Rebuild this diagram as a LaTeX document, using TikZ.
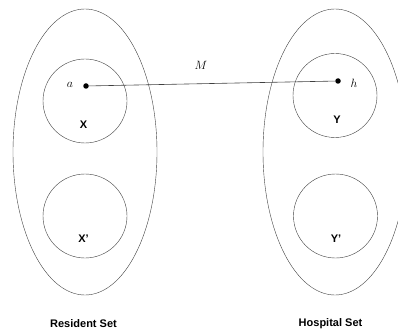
\documentclass[tikz,border=0pt]{standalone}
\usepackage{fontspec}
\setsansfont{Liberation Sans}
\usetikzlibrary{shapes.geometric}

\tikzset{
  setshape/.style={draw=black!75, ellipse, minimum width=144pt, minimum height=286pt, inner sep=0pt},
  subset/.style={draw=black!75, circle, minimum size=84pt, inner sep=0pt},
  setlabel/.style={font=\sffamily\bfseries\fontsize{11}{13}\selectfont},
  mathlabel/.style={font=\fontsize{12}{14}\selectfont},
  vertex/.style={fill=black, circle, minimum size=5.5pt, inner sep=0pt}
}

\begin{document}
\begin{tikzpicture}[x=1pt, y=1pt]
  \useasboundingbox (0,0) rectangle (398,332);
  \clip (0,0) rectangle (398,332);

  % Sets
  \node[setshape] (R) at (85,180) {};
  \node[setshape] (H) at (335,180) {};

  % Subsets
  \node[subset] (X) at (85,231) {};
  \node[subset] (Xp) at (85,116) {};
  \node[subset] (Y) at (335,236.5) {};
  \node[subset] (Yp) at (335.5,116) {};

  \node[setlabel] (Xl) at (83.5,207) {X};
  \node[setlabel] (Xpl) at (83.5,93) {X'};
  \node[setlabel] (Yl) at (337,212) {Y};
  \node[setlabel] (Ypl) at (336,93) {Y'};

  % Matched pair
  \node[vertex] (a) at (86,246) {};
  \node[vertex] (h) at (338,251) {};
  \node[mathlabel] (al) at (70,247) {$a$};
  \node[mathlabel] (hl) at (354,249) {$h$};
  \draw[black!75, line width=0.6pt] (a) -- (h);
  \node[mathlabel] (M) at (201,267) {$M$};

  % Set names
  \node[setlabel] (Rl) at (83.5,8) {Resident Set};
  \node[setlabel] (Hl) at (330.5,8) {Hospital Set};
\end{tikzpicture}
\end{document}
